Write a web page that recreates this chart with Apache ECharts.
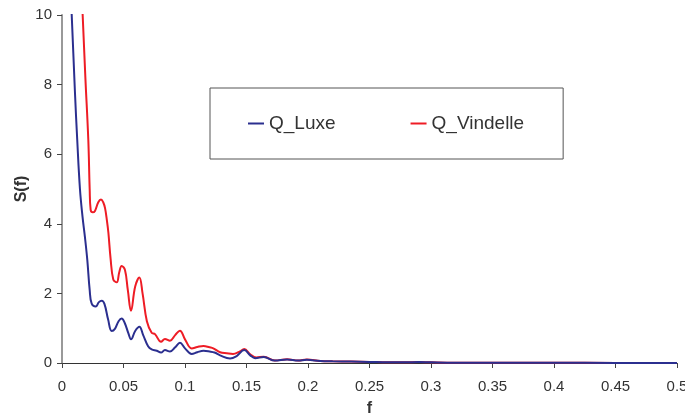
<!DOCTYPE html>
<html>
<head>
<meta charset="utf-8">
<script src="https://cdn.jsdelivr.net/npm/echarts@6/dist/echarts.min.js"></script>
<style>
  html, body { margin: 0; padding: 0; background: #fff; }
  #chart { width: 685px; height: 414px; }
</style>
</head>
<body>
<div id="chart"></div>
<script>
// spectre S(f)
var luxeF = [0.004, 0.0079, 0.0105, 0.0124, 0.0146, 0.0167, 0.0187, 0.0206, 0.0225, 0.0241, 0.0274, 0.0300, 0.0323, 0.0345, 0.0375, 0.0404, 0.043, 0.0460, 0.0485, 0.051, 0.0540, 0.0561, 0.0595, 0.0629, 0.066, 0.0700, 0.0729, 0.0770, 0.0805, 0.0837, 0.0878, 0.092, 0.0959, 0.100, 0.1054, 0.110, 0.115, 0.120, 0.124, 0.1285, 0.1366, 0.142, 0.1482, 0.153, 0.157, 0.164, 0.173, 0.183, 0.192, 0.199, 0.21, 0.22, 0.235, 0.25, 0.265, 0.28, 0.29, 0.30, 0.32, 0.35, 0.4, 0.45, 0.5];
var luxeS = [13, 10, 7.8, 6.4, 5.0, 4.2, 3.6, 2.95, 2.1, 1.71, 1.62, 1.75, 1.79, 1.7, 1.25, 0.92, 0.98, 1.2, 1.28, 1.15, 0.85, 0.68, 0.92, 1.04, 0.8, 0.48, 0.39, 0.35, 0.30, 0.37, 0.33, 0.45, 0.58, 0.42, 0.26, 0.31, 0.35, 0.33, 0.30, 0.22, 0.13, 0.2, 0.37, 0.22, 0.14, 0.17, 0.07, 0.10, 0.07, 0.09, 0.06, 0.05, 0.04, 0.03, 0.02, 0.02, 0.03, 0.02, 0.01, 0.01, 0.005, 0.003, 0.002];

var vindF = [0.013, 0.0168, 0.019, 0.0214, 0.0225, 0.0233, 0.0250, 0.0268, 0.0295, 0.0317, 0.0335, 0.0350, 0.0365, 0.0377, 0.0395, 0.0417, 0.0445, 0.0465, 0.0485, 0.0512, 0.0535, 0.0561, 0.0595, 0.0629, 0.0655, 0.069, 0.0729, 0.0756, 0.0805, 0.0837, 0.0878, 0.092, 0.0959, 0.100, 0.1054, 0.110, 0.115, 0.120, 0.123, 0.1285, 0.134, 0.139, 0.144, 0.1482, 0.153, 0.158, 0.164, 0.173, 0.183, 0.192, 0.199, 0.21, 0.22, 0.235, 0.25, 0.265, 0.276, 0.29, 0.30, 0.32, 0.35, 0.4, 0.45, 0.5];
var vindS = [13, 10, 8.2, 6.4, 5.0, 4.4, 4.33, 4.37, 4.62, 4.70, 4.62, 4.45, 4.1, 3.75, 3.0, 2.4, 2.32, 2.6, 2.79, 2.67, 2.1, 1.50, 2.2, 2.46, 2.0, 1.2, 0.87, 0.83, 0.61, 0.69, 0.64, 0.8, 0.93, 0.68, 0.42, 0.46, 0.49, 0.45, 0.42, 0.31, 0.28, 0.26, 0.32, 0.40, 0.25, 0.16, 0.18, 0.07, 0.11, 0.07, 0.10, 0.06, 0.05, 0.04, 0.03, 0.02, 0.02, 0.03, 0.02, 0.01, 0.01, 0.005, 0.003, 0.002];

var seriesNames = ['Q_Luxe', 'Q_Vindelle'];

function pairs(xs, ys) {
	var out = [];
	for (var i = 0; i < xs.length; i++) {
		out.push([xs[i], ys[i]]);
	}
	return out;
}

var txt = '#333';
var font = 'Liberation Sans, Arial, sans-serif';

var myChart = echarts.init(document.getElementById('chart'));
myChart.setOption({
	animation: false,
	color: ['#2b2f8f', '#ee1c25'],
	textStyle: { fontFamily: font },
	grid: { left: 62, right: 8, top: 15, bottom: 51, outerBoundsMode: 'none' },
	legend: {
		data: seriesNames,
		left: 210,
		top: 88,
		padding: [26, 39, 26, 38],
		icon: 'rect',
		itemWidth: 16,
		itemHeight: 2,
		itemGap: 75,
		borderColor: '#555',
		borderWidth: 1,
		textStyle: { color: txt, fontSize: 19 }
	},
	xAxis: {
		type: 'value',
		min: 0,
		max: 0.5,
		interval: 0.05,
		name: 'f',
		nameLocation: 'middle',
		nameGap: 38,
		nameTextStyle: { color: txt, fontSize: 16, fontWeight: 'bold' },
		splitLine: { show: false },
		axisLine: { lineStyle: { color: '#333', width: 1 } },
		axisTick: { length: 5, lineStyle: { color: '#444' } },
		axisLabel: { color: txt, fontSize: 15, margin: 16 }
	},
	yAxis: {
		type: 'value',
		min: 0,
		max: 10,
		interval: 2,
		name: 'S(f)',
		nameLocation: 'middle',
		nameGap: 32,
		nameMoveOverlap: false,
		nameTextStyle: { color: txt, fontSize: 16, fontWeight: 'bold' },
		splitLine: { show: false },
		axisLine: { show: true, lineStyle: { color: '#999', width: 2 } },
		axisTick: { show: true, length: 5, lineStyle: { color: '#444' } },
		axisLabel: { color: txt, fontSize: 15, margin: 10 }
	},
	series: [{
		name: seriesNames[0],
		type: 'line',
		data: pairs(luxeF, luxeS),
		smooth: 0.4,
		symbol: 'none',
		clip: true,
		lineStyle: { width: 2 },
		z: 3
	}, {
		name: seriesNames[1],
		type: 'line',
		data: pairs(vindF, vindS),
		smooth: 0.4,
		symbol: 'none',
		clip: true,
		lineStyle: { width: 2 },
		z: 2
	}]
});
</script>
</body>
</html>
